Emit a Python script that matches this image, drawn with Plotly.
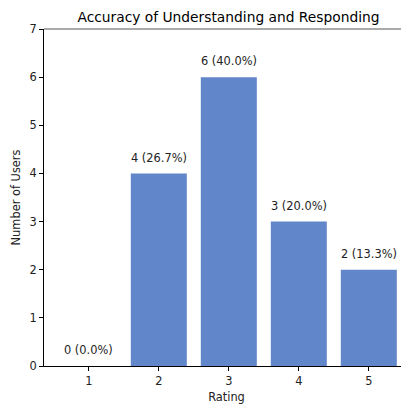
import plotly.graph_objects as go

ratings = [1, 2, 3, 4, 5]
counts = [0, 4, 6, 3, 2]
total = sum(counts)
labels = [f"{c} ({c / total * 100:.1f}%)" for c in counts]

bar_color = "#6186CA"
font_family = "DejaVu Sans"

# page body has an 8px default margin; size figure to fit the window
W, H = 401, 398
ML, MT, MB = 36, 21, 40

fig = go.Figure()
fig.add_trace(go.Bar(
    x=ratings, y=counts, width=0.8,
    marker=dict(color=bar_color, line=dict(width=0)),
    showlegend=False,
))

for r, c, lab in zip(ratings, counts, labels):
    fig.add_annotation(
        x=r, y=c + 0.14, text=lab, showarrow=False,
        xanchor="center", yanchor="bottom",
        font=dict(family=font_family, size=11.4, color="#222222"),
    )

axis_common = dict(
    showgrid=False, zeroline=False, showline=True, linecolor="black", linewidth=1,
    ticks="outside", ticklen=4, tickwidth=1, tickcolor="black",
    tickfont=dict(family=font_family, size=11.4, color="#222222"),
)

plot_w = W - ML
fig.update_layout(
    width=W, height=H,
    margin=dict(l=ML, r=0, t=MT, b=MB),
    paper_bgcolor="white", plot_bgcolor="white",
    title=dict(text="Accuracy of Understanding and Responding",
               x=(228.5 - 8) / W, xanchor="center", y=1 - 9 / H, yanchor="middle",
               font=dict(family=font_family, size=13.8, color="black")),
    xaxis=dict(range=[0.36, 0.36 + plot_w / 70], tickvals=ratings,
               title=dict(text="Rating", standoff=6,
                          font=dict(family=font_family, size=11.4, color="#222222")),
               **axis_common),
    yaxis=dict(range=[0, 7], dtick=1,
               title=dict(text="Number of Users", standoff=6,
                          font=dict(family=font_family, size=11.4, color="#222222")),
               mirror=False, **axis_common),
)

fig.add_shape(type="line", xref="paper", yref="paper", x0=0, x1=1, y0=1, y1=1,
              line=dict(color="#555555", width=1))

fig.write_html("out.html")
